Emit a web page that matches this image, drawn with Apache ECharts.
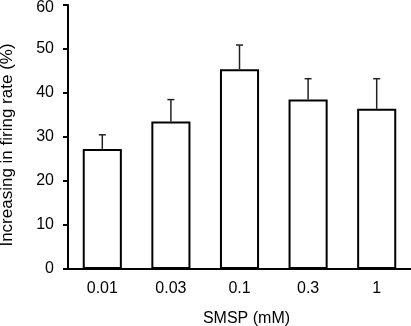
<!DOCTYPE html>
<html><head><meta charset="utf-8">
<script src="https://cdn.jsdelivr.net/npm/echarts@6/dist/echarts.min.js"></script>
<style>html,body{margin:0;padding:0;background:#fff}#c{width:411px;height:326px}</style>
</head><body><div id="c"></div>
<script>
var categories = ['0.01', '0.03', '0.1', '0.3', '1'];
var means = [27.3, 33.5, 45.4, 38.5, 36.4];
var errors = [3.2, 5.0, 5.5, 4.75, 6.85];
var yTicks = [0, 10, 20, 30, 40, 50, 60];

var chart = echarts.init(document.getElementById('c'), null, {renderer: 'canvas'});
var font = 'Liberation Sans, Arial, sans-serif';
chart.setOption({
  animation: false,
  backgroundColor: '#fff',
  grid: {left: 68, right: 0, top: 5, bottom: 57, containLabel: false, outerBoundsMode: 'none'},
  xAxis: {
    type: 'category', data: categories,
    name: 'SMSP (mM)', nameLocation: 'middle', nameGap: 42,
    nameTextStyle: {fontFamily: font, fontSize: 16, color: '#000', padding: [0, 0, 0, 14]},
    axisLine: {lineStyle: {color: '#000', width: 2}},
    axisTick: {show: false},
    axisLabel: {fontFamily: font, fontSize: 16, color: '#000', margin: 12}
  },
  yAxis: {
    type: 'value', min: 0, max: 60, interval: 10,
    name: 'Increasing in firing rate (%)', nameLocation: 'middle', nameGap: 52,
    nameTextStyle: {fontFamily: font, fontSize: 17, color: '#000', padding: [0, 16, 0, 0]},
    axisLine: {show: true, lineStyle: {color: '#000', width: 2}},
    axisTick: {show: true, length: 5, lineStyle: {color: '#000', width: 2}},
    splitLine: {show: false},
    axisLabel: {fontFamily: font, fontSize: 16, color: '#000', margin: 14,
      formatter: function (v) {
        if (yTicks.indexOf(v) < 0) return '';
        return v === yTicks[yTicks.length - 1] ? '{t|' + v + '}' : String(v);
      },
      rich: {t: {fontFamily: font, fontSize: 16, color: '#000', padding: [5, 0, 0, 0]}}
    }
  },
  series: [
    {
      type: 'bar', data: means, barWidth: '57%',
      itemStyle: {color: '#fff', borderColor: '#000', borderWidth: 2},
      z: 2
    },
    {
      type: 'custom', z: 3,
      data: means.map(function (m, i) { return [i, m, m + errors[i]]; }),
      renderItem: function (params, api) {
        var base = api.coord([api.value(0), api.value(1)]);
        var top = api.coord([api.value(0), api.value(2)]);
        var hw = 3.5;
        var st = {stroke: '#222', lineWidth: 1.5};
        return {type: 'group', children: [
          {type: 'line', shape: {x1: base[0], y1: base[1], x2: top[0], y2: top[1]}, style: st},
          {type: 'line', shape: {x1: top[0] - hw, y1: top[1], x2: top[0] + hw, y2: top[1]}, style: st}
        ]};
      }
    }
  ]
});
</script></body></html>
